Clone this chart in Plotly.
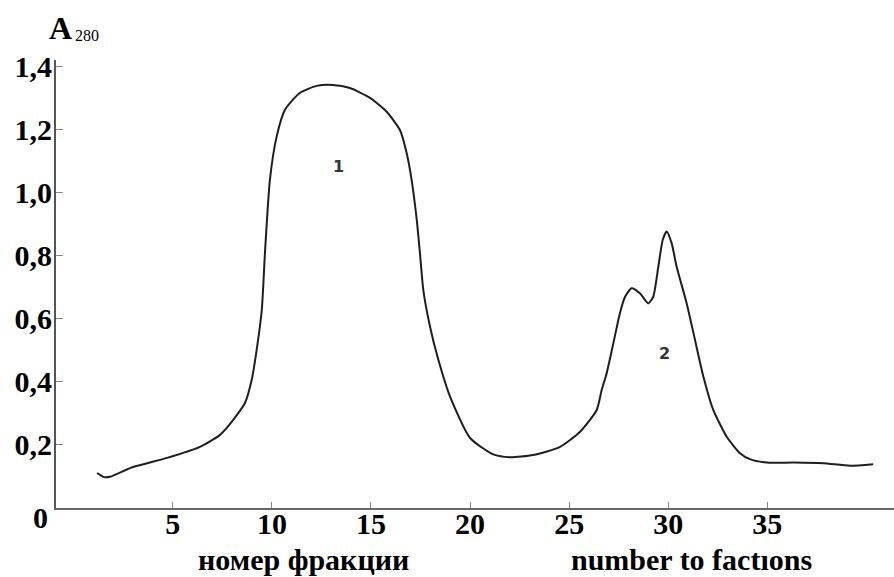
import plotly.graph_objects as go

# Elution profile: absorbance at 280 nm against fraction number
fraction = [1.18, 1.33, 1.53, 1.83, 2.99, 4.71, 6.37, 7.38, 8.04, 8.64, 8.98, 9.23,
            9.49, 9.65, 9.90, 10.24, 10.66, 11.42, 12.26, 13.08, 13.94, 14.95,
            15.79, 16.46, 16.80, 17.05, 17.31, 17.47, 17.64, 17.98, 18.40, 18.99,
            20.00, 21.17, 22.01, 23.19, 24.54, 25.55, 26.39, 26.64, 26.89, 27.23,
            27.56, 27.82, 28.15, 28.57, 28.99, 29.24, 29.50, 29.72, 29.92, 30.17,
            30.42, 30.93, 31.35, 31.77, 32.27, 32.95, 33.62, 34.12, 34.97, 36.31,
            37.82, 39.17, 40.34]
a280 = [0.111, 0.105, 0.098, 0.099, 0.130, 0.159, 0.194, 0.232, 0.279, 0.333,
        0.406, 0.501, 0.628, 0.809, 1.041, 1.178, 1.263, 1.317, 1.339, 1.342,
        1.332, 1.301, 1.257, 1.199, 1.126, 1.041, 0.914, 0.809, 0.692, 0.575,
        0.470, 0.353, 0.222, 0.170, 0.161, 0.168, 0.194, 0.242, 0.311, 0.374,
        0.427, 0.523, 0.618, 0.670, 0.697, 0.681, 0.649, 0.670, 0.766, 0.850,
        0.877, 0.840, 0.766, 0.649, 0.533, 0.417, 0.311, 0.226, 0.174, 0.155,
        0.144, 0.144, 0.142, 0.134, 0.139]

x_ticks = [5, 10, 15, 20, 25, 30, 35]
y_ticks = [0.2, 0.4, 0.6, 0.8, 1.0, 1.2, 1.4]
y_tick_text = ["0,2", "0,4", "0,6", "0,8", "1,0", "1,2", "1,4"]

peak_labels = ["1", "2"]
peak_x = [13.35, 29.83]
peak_y = [1.083, 0.489]

serif = "Liberation Serif"

fig = go.Figure()
fig.add_trace(go.Scatter(
    x=fraction, y=a280, mode="lines",
    line=dict(color="#1e1e1e", width=2, shape="spline", smoothing=0.6),
    hoverinfo="skip", showlegend=False,
))

for t, px, py in zip(peak_labels, peak_x, peak_y):
    fig.add_annotation(x=px, y=py, text=t, showarrow=False,
                       font=dict(family="DejaVu Sans", size=16, color="#333", weight="bold"))

W, H = 894, 577
L, R, T, B = 56, 0, 60, 69
pw, ph = W - L - R, H - T - B


def paper(px, py):
    return (px - L) / pw, (H - B - py) / ph


def label(text, px, py, size, weight="bold", xanchor="center"):
    xp, yp = paper(px, py)
    fig.add_annotation(xref="paper", yref="paper", x=xp, y=yp, text=text,
                       showarrow=False, xanchor=xanchor, yanchor="middle",
                       font=dict(family=serif, size=size, color="black", weight=weight))


label("0", 40, 517, 30)
label("номер фракции", 303, 559, 30)
label("number to factıons", 691, 559, 30)
label("A", 60, 28, 32)
label("280", 87, 36, 16, weight="normal")

fig.update_layout(
    width=W, height=H,
    margin=dict(l=L, r=R, t=T, b=B),
    paper_bgcolor="white", plot_bgcolor="white",
    xaxis=dict(range=[-0.893, 41.39], tickvals=x_ticks, ticks="inside", ticklen=6,
               tickcolor="#888", tickwidth=1, showgrid=False, zeroline=False,
               showline=True, linecolor="#666", linewidth=2, ticklabelstandoff=-12,
               tickfont=dict(family=serif, size=30, color="black", weight="bold")),
    yaxis=dict(range=[0, 1.421], tickvals=y_ticks, ticktext=y_tick_text, ticks="inside",
               ticklen=7, tickcolor="#888", tickwidth=1, showgrid=False, zeroline=False,
               showline=True, linecolor="#555", linewidth=2, ticklabelstandoff=-4,
               tickfont=dict(family=serif, size=30, color="black", weight="bold")),
)

fig.write_html("out.html")
